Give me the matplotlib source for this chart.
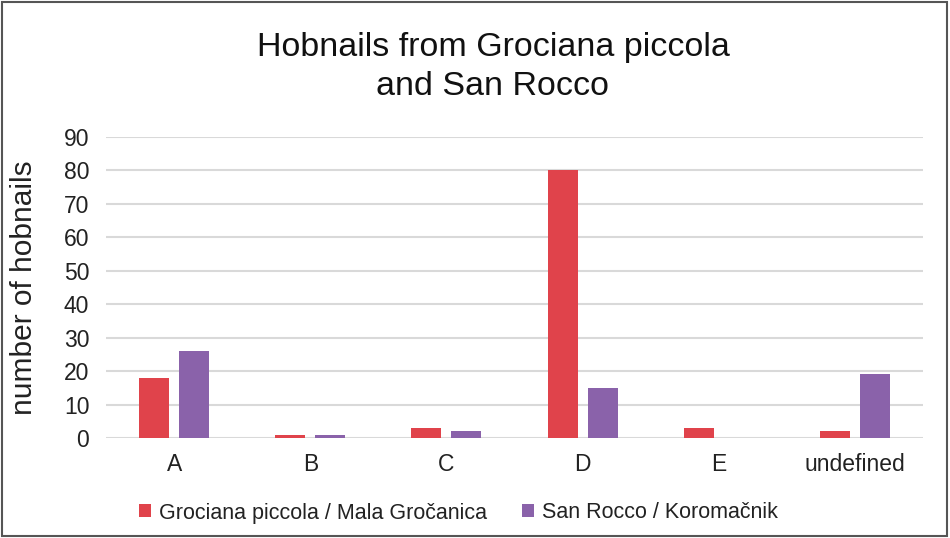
import matplotlib.pyplot as plt
import numpy as np
from matplotlib.patches import Rectangle

plt.rcParams['font.family'] = ['Liberation Sans', 'DejaVu Sans']

categories = ["A", "B", "C", "D", "E", "undefined"]
grociana = [18, 1, 3, 80, 3, 2]
san_rocco = [26, 1, 2, 15, 0, 19]
series_names = ["Grociana piccola / Mala Gročanica", "San Rocco / Koromačnik"]
colors = ["#E0434B", "#8A62AA"]
yticks = list(range(0, 91, 10))

fig = plt.figure(figsize=(9.5, 5.38), dpi=100)
ax = fig.add_axes([0.1116, 0.1859, 0.86, 0.5595])

x = np.arange(len(categories))
w = 0.22
ax.bar(x - 0.147, grociana, w, color=colors[0], label=series_names[0], zorder=3)
ax.bar(x + 0.147, san_rocco, w, color=colors[1], label=series_names[1], zorder=3)

ax.set_xlim(-0.5, len(categories) - 0.5)
ax.set_ylim(0, 90)
ax.set_yticks(yticks)
ax.set_xticks(x)
ax.set_xticklabels(categories)
ax.tick_params(axis="both", length=0, labelsize=16.5, colors="#222222")
ax.tick_params(axis="y", pad=12)
ax.tick_params(axis="x", pad=11)
ax.grid(axis="y", color="#d9d9d9", linewidth=1.5, zorder=0)
for s in ax.spines.values():
    s.set_visible(False)

ax.set_ylabel("number of hobnails", fontsize=21.5, color="#222222", va="center")
ax.yaxis.set_label_coords(-0.1, 0.5)

fig.text(493 / 950, 1 - 67 / 538, "Hobnails from Grociana piccola\nand San Rocco",
         ha="center", va="center", fontsize=24.5, linespacing=1.3, color="#111111")

fig.legend(loc="center", bbox_to_anchor=(0.4826, 1 - 513 / 538), ncol=2, frameon=False,
           fontsize=15.5, handlelength=0.55, handleheight=0.55, columnspacing=1.6,
           handletextpad=0.4, labelcolor="#222222")

# thin frame round the whole figure
fig.patches.append(Rectangle((0.002, 0.003), 0.995, 0.994, transform=fig.transFigure,
                             fill=False, edgecolor="#555555", linewidth=1.5))

fig.savefig("out.png", dpi=100)
